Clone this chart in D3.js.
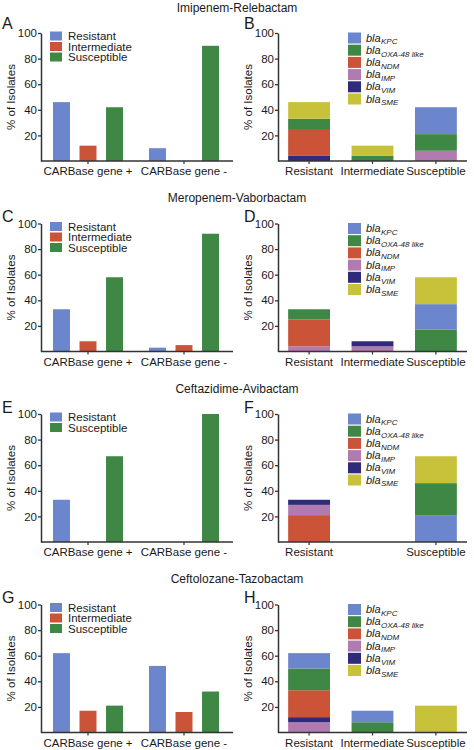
<!DOCTYPE html>
<html><head><meta charset="utf-8">
<script src="https://cdn.jsdelivr.net/npm/d3@7"></script>
<style>
html,body{margin:0;padding:0;background:#fff;}
svg{display:block;font-family:"Liberation Sans",Arial,Helvetica,sans-serif;}
</style></head>
<body>
<svg id="chart" width="474" height="750"></svg>
<script>
// ---------- DATA ----------
const drugTitles = ["Imipenem-Relebactam","Meropenem-Vaborbactam","Ceftazidime-Avibactam","Ceftolozane-Tazobactam"];
const panelLetters = [["A","B"],["C","D"],["E","F"],["G","H"]];
const groups = ["CARBase gene +","CARBase gene -"];
const outcomes = ["Resistant","Intermediate","Susceptible"];
const yTicks = [20,40,60,80,100];
const genes = ["KPC","OXA-48 like","NDM","IMP","VIM","SME"];

// left panels: % per outcome for [gene +, gene -]
const imiResistant = [46,10], imiIntermediate = [12,0], imiSusceptible = [42,90];
const merResistant = [33,3],  merIntermediate = [8,5],  merSusceptible = [58,92];
const cazResistant = [33,0],  cazIntermediate = null,   cazSusceptible = [67,100];
const tolResistant = [62,52], tolIntermediate = [17,16], tolSusceptible = [21,32];

// right panels: % per gene for [Resistant, Intermediate, Susceptible]
const imiKPC=[0,0,21], imiOXA=[8,4,13], imiNDM=[21,0,0], imiIMP=[0,0,8], imiVIM=[4,0,0], imiSME=[13,8,0];
const merKPC=[0,0,20], merOXA=[8,0,17], merNDM=[21,0,0], merIMP=[4,4,0], merVIM=[0,4,0], merSME=[0,0,21];
const cazKPC=[0,0,21], cazOXA=[0,0,25], cazNDM=[21,0,0], cazIMP=[8,0,0], cazVIM=[4,0,0], cazSME=[0,0,21];
const tolKPC=[12,9,0], tolOXA=[17,8,0], tolNDM=[21,0,0], tolIMP=[8,0,0], tolVIM=[4,0,0], tolSME=[0,0,21];

// stacking order (bottom to top) per outcome bar
const imiOrder = [["VIM","NDM","OXA-48 like","SME"],["OXA-48 like","SME"],["IMP","OXA-48 like","KPC"]];
const merOrder = [["IMP","NDM","OXA-48 like"],["IMP","VIM"],["OXA-48 like","KPC","SME"]];
const cazOrder = [["NDM","IMP","VIM"],[],["KPC","OXA-48 like","SME"]];
const tolOrder = [["IMP","VIM","NDM","OXA-48 like","KPC"],["OXA-48 like","KPC"],["SME"]];

const cazRightOutcomes = ["Resistant","Susceptible"];

// ---------- build tables ----------
const leftData = [
  {Resistant:imiResistant, Intermediate:imiIntermediate, Susceptible:imiSusceptible},
  {Resistant:merResistant, Intermediate:merIntermediate, Susceptible:merSusceptible},
  {Resistant:cazResistant, Intermediate:cazIntermediate, Susceptible:cazSusceptible},
  {Resistant:tolResistant, Intermediate:tolIntermediate, Susceptible:tolSusceptible}
];
const rightData = [
  {vals:{"KPC":imiKPC,"OXA-48 like":imiOXA,"NDM":imiNDM,"IMP":imiIMP,"VIM":imiVIM,"SME":imiSME}, order:imiOrder, labels:outcomes},
  {vals:{"KPC":merKPC,"OXA-48 like":merOXA,"NDM":merNDM,"IMP":merIMP,"VIM":merVIM,"SME":merSME}, order:merOrder, labels:outcomes},
  {vals:{"KPC":cazKPC,"OXA-48 like":cazOXA,"NDM":cazNDM,"IMP":cazIMP,"VIM":cazVIM,"SME":cazSME}, order:cazOrder, labels:cazRightOutcomes},
  {vals:{"KPC":tolKPC,"OXA-48 like":tolOXA,"NDM":tolNDM,"IMP":tolIMP,"VIM":tolVIM,"SME":tolSME}, order:tolOrder, labels:outcomes}
];

// ---------- styles ----------
const outcomeColor = {Resistant:"#6b86cc", Intermediate:"#cb5338", Susceptible:"#3f8745"};
const geneColor = {"KPC":"#6b86cc","OXA-48 like":"#3f8745","NDM":"#cb5338","IMP":"#b27bb0","VIM":"#2f2a7a","SME":"#c8c23b"};
const axisColor = "#333";
const textColor = "#1a1a1a";
const rowTops = [33, 223.5, 414, 604.5];
const letterBase = [29, 221.5, 413, 603];
const plotH = 128;

const svg = d3.select("#chart");
svg.append("rect").attr("width",474).attr("height",750).attr("fill","#fff");

function drawYAxis(g, y, x0, labelX) {
  const ax = g.append("g").attr("transform",`translate(${x0},0)`)
    .call(d3.axisLeft(y).tickValues(yTicks).tickSize(3).tickPadding(1).tickSizeOuter(0));
  ax.select(".domain").attr("stroke",axisColor).attr("stroke-width",1.5);
  ax.selectAll(".tick line").attr("stroke",axisColor).attr("stroke-width",1.3);
  ax.selectAll(".tick text").attr("fill",textColor).style("font-size","11.5px").style("font-family","inherit");
  const mid = (y(0)+y(100))/2;
  g.append("text").attr("transform",`translate(${labelX},${mid}) rotate(-90)`)
    .attr("text-anchor","middle").attr("fill",textColor).style("font-size","11.5px")
    .text("% of Isolates");
}

function drawXAxis(g, y, x0, x1, tickPos, labels) {
  g.append("line").attr("x1",x0).attr("x2",x1).attr("y1",y(0)).attr("y2",y(0))
    .attr("stroke",axisColor).attr("stroke-width",1.5);
  tickPos.forEach((p,i)=>{
    g.append("line").attr("x1",p).attr("x2",p).attr("y1",y(0)).attr("y2",y(0)+3)
      .attr("stroke",axisColor).attr("stroke-width",1.2);
    g.append("text").attr("x",p).attr("y",y(0)+14).attr("text-anchor","middle")
      .attr("fill",textColor).style("font-size","11.5px").text(labels[i]);
  });
}

for (let r=0; r<4; r++) {
  const top = rowTops[r];
  const y = d3.scaleLinear().domain([0,100]).range([top+plotH, top]);

  // title
  svg.append("text").attr("x",237).attr("y",top-21.5).attr("text-anchor","middle")
    .attr("fill",textColor).style("font-size","12px").text(drugTitles[r]);

  // ---- left panel ----
  const gL = svg.append("g");
  gL.append("text").attr("x",2).attr("y",letterBase[r]).attr("fill",textColor)
    .style("font-size","16px").text(panelLetters[r][0]);
  const x0 = d3.scaleBand().domain(groups).range([40,232]);
  const x1 = d3.scaleBand().domain(outcomes).range([0,x0.bandwidth()]).paddingInner(0.36).paddingOuter(0.49);
  const ld = leftData[r];
  outcomes.forEach(o=>{
    if (!ld[o]) return;
    gL.selectAll(null).data(groups.map((gname,i)=>({g:gname,v:ld[o][i]}))).enter()
      .append("rect")
      .attr("x",d=>x0(d.g)+x1(o)).attr("width",x1.bandwidth())
      .attr("y",d=>y(d.v)).attr("height",d=>y(0)-y(d.v))
      .attr("fill",outcomeColor[o]);
  });
  drawYAxis(gL, y, 41, 15);
  drawXAxis(gL, y, 41, 233, groups.map(gname=>x0(gname)+x0.bandwidth()/2), groups);

  // left legend
  const legOut = outcomes.filter(o=>ld[o]);
  legOut.forEach((o,i)=>{
    const cy = top+3+i*10.5;
    gL.append("rect").attr("x",50).attr("y",cy-4.5).attr("width",12).attr("height",9).attr("fill",outcomeColor[o]);
    gL.append("text").attr("x",68).attr("y",cy+4).attr("fill",textColor).style("font-size","11.5px").text(o);
  });

  // ---- right panel ----
  const gR = svg.append("g");
  gR.append("text").attr("x",244).attr("y",letterBase[r]).attr("fill",textColor)
    .style("font-size","16px").text(panelLetters[r][1]);
  const xr = d3.scaleBand().domain(outcomes).range([278,467]).paddingInner(0.34).paddingOuter(0.16);
  const rd = rightData[r];
  outcomes.forEach((o,oi)=>{
    let base = 0;
    const segs = rd.order[oi].map(gene=>{
      const v = rd.vals[gene][oi];
      const s = {gene, y0:base, y1:base+v};
      base += v; return s;
    });
    gR.selectAll(null).data(segs).enter().append("rect")
      .attr("x",xr(o)).attr("width",xr.bandwidth())
      .attr("y",d=>y(d.y1)).attr("height",d=>y(d.y0)-y(d.y1))
      .attr("fill",d=>geneColor[d.gene]);
  });
  drawYAxis(gR, y, 278, 252);
  drawXAxis(gR, y, 278, 467, rd.labels.map(o=>xr(o)+xr.bandwidth()/2), rd.labels);

  // right legend
  genes.forEach((gene,i)=>{
    const cy = top+5+i*12.2;
    gR.append("rect").attr("x",348).attr("y",cy-5.5).attr("width",13).attr("height",11).attr("fill",geneColor[gene]);
    const t = gR.append("text").attr("x",366).attr("y",cy+3.5).attr("fill",textColor)
      .style("font-size","11px").style("font-style","italic").text("bla");
    const w = t.node().getComputedTextLength();
    gR.append("text").attr("x",366+w+0.3).attr("y",cy+6.3).attr("fill",textColor)
      .style("font-size","8px").style("font-style","italic").text(gene);
  });
}
</script>
</body></html>
